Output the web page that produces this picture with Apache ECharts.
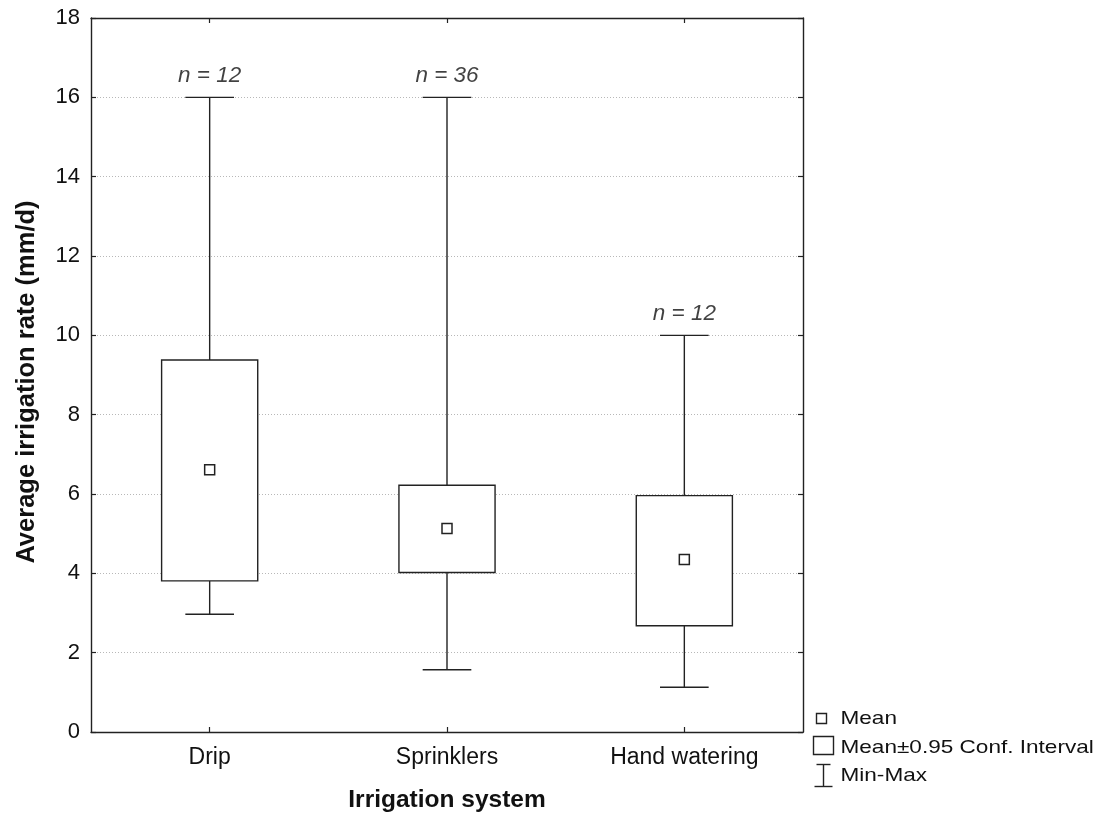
<!DOCTYPE html>
<html>
<head>
<meta charset="utf-8">
<script src="https://cdn.jsdelivr.net/npm/echarts@6/dist/echarts.min.js"></script>
<style>
  html, body { margin: 0; padding: 0; background: #fff; }
  #chart { width: 1104px; height: 818px; }
</style>
</head>
<body>
<div id="chart"></div>
<script>
// Irrigation rate by system: mean, 95% confidence interval and min-max range
const categories = ['Drip', 'Sprinklers', 'Hand watering'];
const means = [6.61, 5.13, 4.35];
const ciLow = [3.81, 4.02, 2.68];
const ciHigh = [9.38, 6.22, 5.96];
const minVals = [2.97, 1.57, 1.13];
const maxVals = [16, 16, 10];
const nCounts = [12, 36, 12];
const yTicks = { min: 0, max: 18, interval: 2 };

const FONT = '"Liberation Sans", Arial, sans-serif';
const INK = '#222';

const boxData = categories.map((c, i) => [i, minVals[i], ciLow[i], ciHigh[i], maxVals[i]]);
const meanData = categories.map((c, i) => [i, means[i]]);
const nData = categories.map((c, i) => [i, maxVals[i], nCounts[i]]);

function renderBox(params, api) {
  const i = api.value(0);
  const lo = api.coord([i, api.value(1)]);
  const q1 = api.coord([i, api.value(2)]);
  const q3 = api.coord([i, api.value(3)]);
  const hi = api.coord([i, api.value(4)]);
  const band = api.size([1, 0])[0];
  const bw = band * 0.405;
  const cw = band * 0.205;
  const x = lo[0];
  const st = { stroke: INK, lineWidth: 1.4, fill: null };
  return {
    type: 'group',
    children: [
      { type: 'line', shape: { x1: x, y1: hi[1], x2: x, y2: q3[1] }, style: st },
      { type: 'line', shape: { x1: x - cw / 2, y1: hi[1], x2: x + cw / 2, y2: hi[1] }, style: st },
      { type: 'line', shape: { x1: x, y1: q1[1], x2: x, y2: lo[1] }, style: st },
      { type: 'line', shape: { x1: x - cw / 2, y1: lo[1], x2: x + cw / 2, y2: lo[1] }, style: st },
      { type: 'rect', shape: { x: x - bw / 2, y: q3[1], width: bw, height: q1[1] - q3[1] },
        style: { stroke: INK, lineWidth: 1.4, fill: '#fff' } }
    ]
  };
}

const axisLine = { show: true, onZero: false, lineStyle: { color: INK, width: 1.4 } };
const inTick = { show: true, inside: true, length: 5, lineStyle: { color: INK, width: 1.2 } };

// Legend drawn at the lower right, beside the plot
const legendText = { fontFamily: FONT, fontSize: 18.5, fill: '#111' };
const legend = {
  type: 'group',
  left: 812,
  top: 709,
  children: [
    { type: 'rect', shape: { x: 4, y: 2, width: 10, height: 10 },
      style: { fill: '#fff', stroke: INK, lineWidth: 1.4 } },
    { type: 'text', x: 28, y: 7, scaleX: 1.22,
      style: Object.assign({ text: 'Mean', verticalAlign: 'middle' }, legendText) },
    { type: 'rect', shape: { x: 1, y: 25, width: 20, height: 18 },
      style: { fill: '#fff', stroke: INK, lineWidth: 1.4 } },
    { type: 'text', x: 28, y: 36, scaleX: 1.22,
      style: Object.assign({ text: 'Mean\u00b10.95 Conf. Interval', verticalAlign: 'middle' }, legendText) },
    { type: 'line', shape: { x1: 11, y1: 53, x2: 11, y2: 75 }, style: { stroke: INK, lineWidth: 1.4 } },
    { type: 'line', shape: { x1: 4, y1: 53, x2: 18, y2: 53 }, style: { stroke: INK, lineWidth: 1.4 } },
    { type: 'line', shape: { x1: 2, y1: 75, x2: 20, y2: 75 }, style: { stroke: INK, lineWidth: 1.4 } },
    { type: 'text', x: 28, y: 64, scaleX: 1.22,
      style: Object.assign({ text: 'Min-Max', verticalAlign: 'middle' }, legendText) }
  ]
};

const chart = echarts.init(document.getElementById('chart'), null, { renderer: 'canvas' });
chart.setOption({
  backgroundColor: '#fff',
  animation: false,
  textStyle: { fontFamily: FONT },
  grid: { left: 91, right: 301, top: 18, bottom: 83, containLabel: false },
  xAxis: [
    {
      type: 'category', data: categories, position: 'bottom',
      axisLine: axisLine, axisTick: Object.assign({ alignWithLabel: true }, inTick),
      axisLabel: { color: '#111', fontSize: 23, margin: 14, fontFamily: FONT },
      splitLine: { show: false },
      name: 'Irrigation system', nameLocation: 'middle', nameGap: 56,
      nameTextStyle: { color: '#111', fontSize: 24.5, fontWeight: 'bold', fontFamily: FONT }
    },
    {
      type: 'category', data: categories, position: 'top',
      axisLine: axisLine, axisTick: Object.assign({ alignWithLabel: true }, inTick),
      axisLabel: { show: false }, splitLine: { show: false }
    }
  ],
  yAxis: [
    {
      type: 'value', min: yTicks.min, max: yTicks.max, interval: yTicks.interval, position: 'left',
      axisLine: axisLine, axisTick: inTick,
      axisLabel: { color: '#111', fontSize: 22, margin: 11, fontFamily: FONT },
      splitLine: { show: true, lineStyle: { color: '#b8b8b8', type: [1, 2], width: 1 } },
      name: 'Average irrigation rate (mm/d)', nameLocation: 'middle', nameGap: 51,
      nameTextStyle: { color: '#111', fontSize: 25.5, fontWeight: 'bold', fontFamily: FONT, padding: [0, 0, 0, -14] }
    },
    {
      type: 'value', min: yTicks.min, max: yTicks.max, interval: yTicks.interval, position: 'right',
      axisLine: axisLine, axisTick: inTick,
      axisLabel: { show: false }, splitLine: { show: false }
    }
  ],
  series: [
    {
      type: 'custom', name: 'Mean\u00b10.95 Conf. Interval', renderItem: renderBox,
      data: boxData, encode: { x: 0, y: [1, 2, 3, 4] }, z: 2
    },
    {
      type: 'scatter', name: 'Mean', data: meanData, symbol: 'rect', symbolSize: 10,
      itemStyle: { color: '#fff', borderColor: INK, borderWidth: 1.5, opacity: 1 }, z: 3
    },
    {
      type: 'scatter', name: 'n', data: nData, symbolSize: 0, z: 4,
      label: {
        show: true, position: 'top', distance: 10,
        formatter: p => 'n = ' + p.value[2],
        fontSize: 22.5, fontStyle: 'italic', color: '#111', fontFamily: FONT
      }
    }
  ],
  graphic: [legend]
});
</script>
</body>
</html>
